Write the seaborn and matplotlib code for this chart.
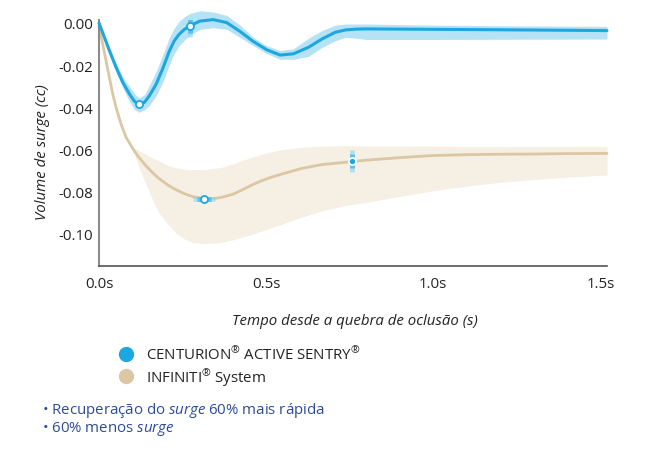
import matplotlib
matplotlib.use("Agg")
import matplotlib.pyplot as plt
from matplotlib.lines import Line2D
import seaborn as sns
import pandas as pd

# CENTURION ACTIVE SENTRY: mean curve and band
cen_t = [0.0, 0.011, 0.031, 0.051, 0.071, 0.091, 0.106, 0.119, 0.136, 0.151, 0.171, 0.191, 0.21,
         0.225, 0.24, 0.256, 0.272, 0.302, 0.342, 0.382, 0.422, 0.462, 0.502, 0.542, 0.582, 0.627,
         0.667, 0.707, 0.737, 0.77, 0.80, 1.0, 1.2, 1.52]
cen_v = [0.0, -0.0046, -0.0131, -0.021, -0.0281, -0.0336, -0.0371, -0.0386, -0.0376, -0.0344, -0.029,
         -0.0215, -0.0135, -0.0085, -0.0053, -0.003, -0.0013, 0.0009, 0.0016, 0.0002, -0.004, -0.0088,
         -0.0127, -0.0152, -0.0146, -0.0115, -0.0076, -0.0044, -0.0033, -0.0029, -0.0028, -0.003,
         -0.0032, -0.0036]
cen_hi = [0.0, -0.0037, -0.0115, -0.019, -0.0255, -0.030, -0.0335, -0.0355, -0.034, -0.0295, -0.023,
          -0.015, -0.0070, -0.0025, 0.0008, 0.0030, 0.0045, 0.0058, 0.0052, 0.0036, -0.0010, -0.0068,
          -0.0108, -0.0130, -0.0122, -0.0072, -0.0036, -0.0010, -0.0005, -0.0005, -0.0005, -0.0010,
          -0.0013, -0.0016]
cen_lo = [0.0, -0.0055, -0.0147, -0.023, -0.0307, -0.0372, -0.041, -0.0423, -0.0412, -0.039, -0.0345,
          -0.028, -0.020, -0.0145, -0.0108, -0.0080, -0.0058, -0.0030, -0.0022, -0.0030, -0.0068,
          -0.0108, -0.0145, -0.0172, -0.0172, -0.0158, -0.0116, -0.0084, -0.0068, -0.0072, -0.0078,
          -0.0078, -0.0077, -0.0076]

# INFINITI System
inf_t = [0.0, 0.011, 0.021, 0.031, 0.041, 0.051, 0.066, 0.081, 0.101, 0.116, 0.138, 0.158, 0.178,
         0.207, 0.23, 0.257, 0.28, 0.315, 0.345, 0.367, 0.40, 0.427, 0.457, 0.487, 0.517, 0.547,
         0.607, 0.667, 0.737, 0.80, 0.90, 1.0, 1.1, 1.2, 1.3, 1.4, 1.52]
inf_v = [-0.001, -0.010, -0.0179, -0.0257, -0.0336, -0.040, -0.0479, -0.0542, -0.0595, -0.0630,
         -0.0672, -0.0706, -0.0735, -0.0769, -0.079, -0.081, -0.0823, -0.0833, -0.0832, -0.0826,
         -0.0812, -0.0792, -0.0768, -0.0747, -0.0730, -0.0716, -0.0689, -0.0671, -0.066, -0.0650,
         -0.0638, -0.0628, -0.0624, -0.0622, -0.0621, -0.0619, -0.0618]
inf_hi = [-0.001, -0.010, -0.0179, -0.0257, -0.0336, -0.040, -0.0479, -0.0542, -0.0590, -0.0602,
          -0.0620, -0.0638, -0.0652, -0.0676, -0.0686, -0.0693, -0.0695, -0.0694, -0.0689, -0.0684,
          -0.0668, -0.0652, -0.0637, -0.0622, -0.0610, -0.0600, -0.0589, -0.0584, -0.0581, -0.0583,
          -0.0583, -0.0584, -0.0585, -0.0585, -0.0586, -0.0586, -0.0586]
inf_lo = [-0.001, -0.010, -0.0179, -0.0257, -0.0336, -0.040, -0.0479, -0.0542, -0.0600, -0.067,
          -0.0755, -0.083, -0.0897, -0.0955, -0.0995, -0.1025, -0.104, -0.1045, -0.1043, -0.1038,
          -0.1028, -0.1016, -0.1002, -0.0986, -0.0970, -0.0953, -0.092, -0.089, -0.0865, -0.085,
          -0.0822, -0.0795, -0.0773, -0.0755, -0.0742, -0.0731, -0.072]

# highlighted points
mark_t = [0.119, 0.272, 0.315, 0.757]
mark_v = [-0.0386, -0.0013, -0.0833, -0.0656]
mark_glow = ["", "|", "_", "|"]

yticks = [0.0, -0.02, -0.04, -0.06, -0.08, -0.10]
xticks = [0.0, 0.5, 1.0, 1.5]

BLUE = "#1DA7E0"
BLUE_BAND = "#B6E2F5"
TAN = "#DBC7A3"
TAN_BAND = "#F5EFE4"
NAVY = "#2C4A9A"
FS = 10.8

sns.set_theme(style="white")
plt.rcParams["font.family"] = ["Open Sans", "DejaVu Sans"]
plt.rcParams["mathtext.fontset"] = "custom"
plt.rcParams["mathtext.rm"] = "Open Sans"
plt.rcParams["mathtext.it"] = "Open Sans:italic"

fig, ax = plt.subplots(figsize=(6.46, 4.52), dpi=100)
fig.subplots_adjust(left=99 / 646, right=607 / 646, top=1 - 21 / 452, bottom=1 - 267 / 452)

cen = pd.DataFrame({"t": cen_t, "v": cen_v})
inf = pd.DataFrame({"t": inf_t, "v": inf_v})

band = ax.fill_between(inf_t, inf_lo, inf_hi, color=TAN_BAND, lw=0, zorder=1)
band.set_clip_on(False)
band = ax.fill_between(cen_t, cen_lo, cen_hi, color=BLUE_BAND, lw=0, zorder=1)
band.set_clip_on(False)

sns.lineplot(data=inf, x="t", y="v", ax=ax, color=TAN, lw=2.0, zorder=2, clip_on=False,
             solid_joinstyle="round", solid_capstyle="round")
sns.lineplot(data=cen, x="t", y="v", ax=ax, color=BLUE, lw=2.2, zorder=3, clip_on=False,
             solid_joinstyle="round", solid_capstyle="round")

for i, (t, v, g) in enumerate(zip(mark_t, mark_v, mark_glow)):
    if g:
        ax.scatter([t], [v], marker=g, s=230, color="#8FD3F1", alpha=0.6, linewidths=3.5, zorder=4)
        ax.scatter([t], [v], marker=g, s=90, color="#4DB9E8", alpha=0.8, linewidths=3.5, zorder=4)
    if i == 3:
        ax.scatter([t], [v], s=26, color=BLUE, edgecolors="white", linewidths=1.2, zorder=5)
    else:
        ax.scatter([t], [v], s=26, color="white", edgecolors=BLUE, linewidths=1.3, zorder=5)

ax.set_xlim(0, 1.52)
ax.set_ylim(-(267 - 24) / 2110, (24 - 21) / 2110)
ax.set_xticks(xticks)
ax.set_xticklabels([f"{x:.1f}s" for x in xticks])
ax.set_yticks(yticks)
ax.set_yticklabels([f"{y:.2f}".replace("-0.00", "0.00") for y in yticks])
ax.tick_params(length=0, labelsize=FS, colors="#222222")
ax.tick_params(axis="y", pad=4)
ax.tick_params(axis="x", pad=7)

sns.despine(ax=ax)
ax.spines["left"].set_color("#8C8C8C")
ax.spines["left"].set_linewidth(1.5)
ax.spines["bottom"].set_color("#555555")
ax.spines["bottom"].set_linewidth(1.2)

ax.set_xlabel("Tempo desde a quebra de oclusão (s)", fontstyle="italic", fontsize=FS, color="#222222")
ax.xaxis.set_label_coords((355 - 99) / 508, -(314 - 267) / 246)
ax.set_ylabel("Volume de surge (cc)", fontstyle="italic", fontsize=FS, color="#222222")
ax.yaxis.set_label_coords(-(99 - 50) / 508, 1 - (152 - 21) / 246)

handles = [Line2D([], [], marker="o", ls="", markersize=10, color=BLUE),
           Line2D([], [], marker="o", ls="", markersize=10, color=TAN)]
labels = [r"CENTURION$^{\circledR}$ ACTIVE SENTRY$^{\circledR}$", r"INFINITI$^{\circledR}$ System"]
fig.legend(handles, labels, loc="upper left", bbox_to_anchor=(118.5 / 646, 1 - 346.5 / 452),
           frameon=False, fontsize=FS, handlelength=1.0, handletextpad=0.8, borderpad=0,
           borderaxespad=0, labelspacing=0.2, labelcolor="#222222")

fig.text(42 / 646, 1 - 411 / 452, r"• Recuperação do $\mathit{surge}$ 60% mais rápida",
         fontsize=FS, color=NAVY, va="center")
fig.text(42 / 646, 1 - 429 / 452, r"• 60% menos $\mathit{surge}$",
         fontsize=FS, color=NAVY, va="center")

fig.savefig("out.png", dpi=100)
